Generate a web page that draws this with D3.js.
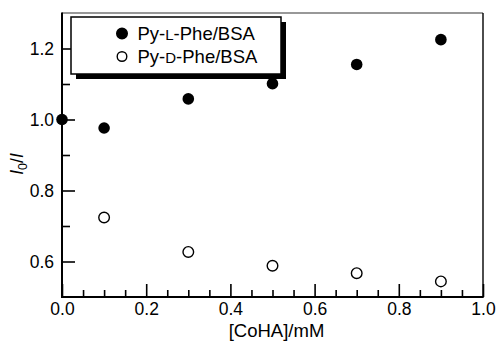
<!DOCTYPE html>
<html><head><meta charset="utf-8">
<script src="https://cdn.jsdelivr.net/npm/d3@7"></script>
<style>body{margin:0;background:#fff}svg{display:block}text{font-family:"Liberation Sans",Arial,sans-serif}</style>
</head><body><svg id="c" width="497" height="343"></svg>
<script>
const seriesNames = ["Py-L-Phe/BSA", "Py-D-Phe/BSA"];
const xL = [0.0, 0.1, 0.3, 0.5, 0.7, 0.9];
const yL = [1.0, 0.976, 1.058, 1.101, 1.155, 1.225];
const xD = [0.1, 0.3, 0.5, 0.7, 0.9];
const yD = [0.724, 0.627, 0.588, 0.567, 0.544];
const xTicks = [0.0, 0.2, 0.4, 0.6, 0.8, 1.0];
const yTicks = [0.6, 0.8, 1.0, 1.2];

const svg = d3.select("#c");
const x = d3.scaleLinear().domain([0, 1]).range([62, 483]);
const y = d3.scaleLinear().domain([0.5, 1.3]).range([297, 13]);
const X0 = x(0), X1 = x(1), Y0 = y(0.5), Y1 = y(1.3);

// minor ticks
const xMinor = d3.range(0, 1.0001, 0.05).filter(v => Math.abs(v*5 - Math.round(v*5)) > 1e-6);
const yMinor = [0.7, 0.9, 1.1];
svg.append("g").attr("transform", `translate(0,${Y0})`)
  .call(d3.axisBottom(x).tickValues(xMinor).tickSize(-7).tickFormat(""))
  .call(g => g.select(".domain").remove())
  .call(g => g.selectAll("line").attr("stroke", "#000").attr("stroke-width", 1.6));
svg.append("g").attr("transform", `translate(${X0},0)`)
  .call(d3.axisLeft(y).tickValues(yMinor).tickSize(-8).tickFormat(""))
  .call(g => g.select(".domain").remove())
  .call(g => g.selectAll("line").attr("stroke", "#000").attr("stroke-width", 1.6));

// major
svg.append("g").attr("transform", `translate(0,${Y0})`)
  .call(d3.axisBottom(x).tickValues(xTicks).tickSize(-13).tickPadding(6).tickFormat(d3.format(".1f")))
  .call(g => g.select(".domain").remove())
  .call(g => g.selectAll("line").attr("stroke", "#000").attr("stroke-width", 1.6))
  .call(g => g.selectAll("text").attr("font-size", 17.5).attr("fill", "#000").attr("font-family", "Liberation Sans, Arial, sans-serif"));
svg.append("g").attr("transform", `translate(${X0},0)`)
  .call(d3.axisLeft(y).tickValues(yTicks).tickSize(-13).tickPadding(8).tickFormat(d3.format(".1f")))
  .call(g => g.select(".domain").remove())
  .call(g => g.selectAll("line").attr("stroke", "#000").attr("stroke-width", 1.6))
  .call(g => g.selectAll("text").attr("font-size", 17.5).attr("fill", "#000").attr("font-family", "Liberation Sans, Arial, sans-serif"));

// frame
svg.append("line").attr("x1", X0).attr("x2", X1).attr("y1", Y1).attr("y2", Y1).attr("stroke", "#333").attr("stroke-width", 1.1);
svg.append("line").attr("x1", X1).attr("x2", X1).attr("y1", Y1).attr("y2", Y0).attr("stroke", "#000").attr("stroke-width", 1.4);
svg.append("line").attr("x1", X0).attr("x2", X0).attr("y1", Y1-0.5).attr("y2", Y0+1).attr("stroke", "#000").attr("stroke-width", 2);
svg.append("line").attr("x1", X0-1).attr("x2", X1+0.7).attr("y1", Y0).attr("y2", Y0).attr("stroke", "#000").attr("stroke-width", 2);

// legend
const lg = svg.append("g");
lg.append("rect").attr("x", 76).attr("y", 22).attr("width", 210).attr("height", 57).attr("fill", "#000");
lg.append("rect").attr("x", 71).attr("y", 17).attr("width", 210).attr("height", 57).attr("fill", "#fff").attr("stroke", "#000").attr("stroke-width", 1.5);
const lgItems = [
  {name: seriesNames[0], fill: "#000", cy: 33.5, base: 40},
  {name: seriesNames[1], fill: "#fff", cy: 56.5, base: 63}
];
lgItems.forEach(it => {
  lg.append("circle").attr("cx", 122).attr("cy", it.cy).attr("r", it.fill === "#000" ? 5.3 : 4.8)
    .attr("fill", it.fill).attr("stroke", "#000").attr("stroke-width", 1.4);
  const parts = it.name.split("-");
  const t = lg.append("text").attr("x", 137.5).attr("y", it.base).attr("font-size", 18.5).attr("fill", "#000");
  t.append("tspan").text(parts[0] + "-");
  t.append("tspan").attr("font-size", 15).text(parts[1]);
  t.append("tspan").text("-" + parts.slice(2).join("-"));
});

// data
const gL = svg.append("g");
gL.selectAll("circle").data(xL.map((v, i) => [v, yL[i]])).join("circle")
  .attr("cx", d => x(d[0])).attr("cy", d => y(d[1])).attr("r", 5.8).attr("fill", "#000");
const gD = svg.append("g");
gD.selectAll("circle").data(xD.map((v, i) => [v, yD[i]])).join("circle")
  .attr("cx", d => x(d[0])).attr("cy", d => y(d[1])).attr("r", 5.3).attr("fill", "#fff").attr("stroke", "#000").attr("stroke-width", 1.4);

// axis titles
svg.append("text").attr("x", (X0 + X1) / 2 + 4).attr("y", 337).attr("text-anchor", "middle")
  .attr("font-size", 18.5).attr("fill", "#000").text("[CoHA]/mM");
const yl = svg.append("text").attr("transform", "translate(23,164) rotate(-90)").attr("text-anchor", "middle")
  .attr("font-size", 17.5).attr("fill", "#000");
yl.append("tspan").attr("font-style", "italic").text("I");
yl.append("tspan").attr("font-size", 12.5).attr("dy", 4).text("0");
yl.append("tspan").attr("dy", -4).text("/");
yl.append("tspan").attr("font-style", "italic").text("I");
</script></body></html>
